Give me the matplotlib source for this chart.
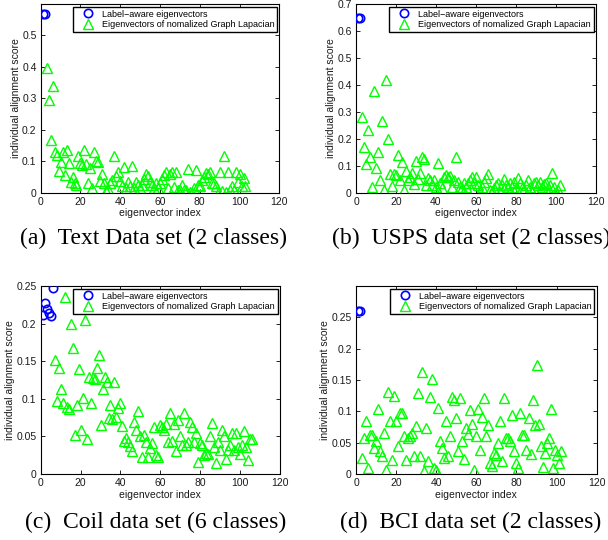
import numpy as np
import matplotlib
matplotlib.use("Agg")
import matplotlib.pyplot as plt

plt.rcParams['font.family'] = ['Liberation Sans', 'DejaVu Sans']

# ---------------- data ----------------
label_a_start = 1
label_a = [0.567, 0.567]
lap_a_start = 3
lap_a = [0.397, 0.294, 0.167, 0.34, 0.128, 0.119, 0.07, 0.098, 0.13, 0.056,
         0.136, 0.096, 0.035, 0.051, 0.03, 0.024, 0.118, 0.093, 0.088, 0.136,
         0.09, 0.03, 0.08, 0.014, 0.13, 0.1, 0.099, 0.037, 0.061, 0.03,
         0.006, 0.013, 0.032, 0.04, 0.118, 0.054, 0.067, 0.037, 0.02, 0.083,
         0.015, 0.035, 0.02, 0.086, 0.014, 0.035, 0.025, 0.014, 0.024, 0.045,
         0.061, 0.054, 0.035, 0.025, 0.014, 0.03, 0.014, 0.032, 0.045, 0.056,
         0.065, 0.015, 0.061, 0.067, 0.017, 0.065, 0.008, 0.009, 0.025, 0.01,
         0.009, 0.074, 0.003, 0.0, 0.014, 0.072, 0.025, 0.02, 0.04, 0.051,
         0.064, 0.061, 0.067, 0.03, 0.032, 0.02, 0.0, 0.065, 0.005, 0.117,
         0.003, 0.065, 0.008, 0.02, 0.008, 0.065, 0.035, 0.061, 0.02, 0.047,
         0.02]

label_b_start = 1
label_b = [0.647, 0.647]
lap_b_start = 3
lap_b = [0.28, 0.171, 0.106, 0.232, 0.134, 0.022, 0.378, 0.09, 0.15, 0.047,
         0.267, 0.01, 0.418, 0.2, 0.069, 0.025, 0.069, 0.066, 0.14, 0.047,
         0.115, 0.01, 0.082, 0.047, 0.06, 0.072, 0.031, 0.119, 0.05, 0.072,
         0.134, 0.124, 0.028, 0.053, 0.047, 0.028, 0.047, 0.02, 0.11, 0.037,
         0.016, 0.059, 0.065, 0.059, 0.062, 0.02, 0.047, 0.134, 0.041, 0.02,
         0.016, 0.035, 0.022, 0.037, 0.047, 0.059, 0.037, 0.059, 0.028, 0.004,
         0.022, 0.041, 0.053, 0.069, 0.01, 0.007, 0.016, 0.028, 0.037, 0.004,
         0.028, 0.051, 0.028, 0.022, 0.035, 0.022, 0.041, 0.016, 0.053, 0.035,
         0.016, 0.012, 0.028, 0.047, 0.022, 0.004, 0.037, 0.041, 0.028, 0.041,
         0.02, 0.032, 0.037, 0.016, 0.03, 0.072, 0.022, 0.004, 0.01, 0.028]

label_c_start = 1
label_c = [0.212, 0.228, 0.220, 0.214, 0.210, 0.248]
lap_c_start = 7
lap_c = [0.151, 0.0975, 0.141, 0.113, 0.095, 0.236, 0.0887, 0.086, 0.199, 0.167,
         0.052, 0.092, 0.139, 0.059, 0.101, 0.205, 0.046, 0.1285, 0.094, 0.127,
         0.126, 0.1405, 0.158, 0.065, 0.113, 0.1285, 0.122, 0.074, 0.092, 0.073,
         0.123, 0.076, 0.088, 0.095, 0.064, 0.044, 0.048, 0.043, 0.037, 0.031,
         0.0696, 0.058, 0.084, 0.05, 0.022, 0.052, 0.042, 0.022, 0.034, 0.041,
         0.063, 0.025, 0.022, 0.065, 0.062, 0.059, 0.067, 0.043, 0.081, 0.044,
         0.066, 0.031, 0.072, 0.05, 0.039, 0.081, 0.039, 0.043, 0.0696, 0.063,
         0.043, 0.054, 0.016, 0.041, 0.039, 0.025, 0.028, 0.027, 0.05, 0.068,
         0.036, 0.014, 0.042, 0.032, 0.059, 0.05, 0.0195, 0.032, 0.039, 0.054,
         0.032, 0.054, 0.036, 0.027, 0.039, 0.057, 0.036, 0.018, 0.047, 0.047]

label_d_start = 1
label_d = [0.2606, 0.2606]
lap_d_start = 3
lap_d = [0.025, 0.057, 0.085, 0.009, 0.062, 0.063, 0.041, 0.052, 0.103, 0.036,
         0.028, 0.066, 0.006, 0.131, 0.085, 0.022, 0.124, 0.084, 0.045, 0.097,
         0.097, 0.061, 0.023, 0.057, 0.06, 0.065, 0.029, 0.076, 0.129, 0.028,
         0.163, 0.005, 0.074, 0.021, 0.123, 0.152, 0.009, 0.006, 0.105, 0.052,
         0.041, 0.026, 0.084, 0.029, 0.06, 0.123, 0.118, 0.089, 0.036, 0.121,
         0.052, 0.024, 0.074, 0.064, 0.102, 0.08, 0.006, 0.06, 0.104, 0.039,
         0.091, 0.122, 0.061, 0.078, 0.017, 0.012, 0.033, 0.030, 0.049, 0.085,
         0.02, 0.122, 0.057, 0.057, 0.052, 0.094, 0.036, 0.018, 0.009, 0.098,
         0.063, 0.062, 0.038, 0.09, 0.032, 0.118, 0.078, 0.174, 0.08, 0.044,
         0.011, 0.033, 0.05, 0.057, 0.103, 0.009, 0.039, 0.03, 0.017, 0.036]

captions = ["(a)  Text Data set (2 classes)", "(b)  USPS data set (2 classes)",
            "(c)  Coil data set (6 classes)", "(d)  BCI data set (2 classes)"]
legend_labels = ["Label\u2212aware eigenvectors",
                 "Eigenvectors of nomalized Graph Lapacian"]
xticks = [0, 20, 40, 60, 80, 100, 120]
yticks_a = [0, 0.1, 0.2, 0.3, 0.4, 0.5]
yticks_b = [0, 0.1, 0.2, 0.3, 0.4, 0.5, 0.6, 0.7]
yticks_c = [0, 0.05, 0.1, 0.15, 0.2, 0.25]
yticks_d = [0, 0.05, 0.1, 0.15, 0.2, 0.25]
ylims = [0.6, 0.7, 0.25, 0.3]

# ---------------- figure ----------------
W, H = 608, 540
fig = plt.figure(figsize=(W / 100, H / 100), dpi=100)

def rect(l, r, t, b):
    return [l / W, 1 - b / H, (r - l) / W, (b - t) / H]

rects = [rect(40.7, 279.3, 4, 192.7), rect(356, 596, 4, 192.7),
         rect(40.7, 280, 286, 474), rect(356, 596.7, 286, 474)]

panels = [
    (label_a_start, label_a, lap_a_start, lap_a, yticks_a),
    (label_b_start, label_b, lap_b_start, lap_b, yticks_b),
    (label_c_start, label_c, lap_c_start, lap_c, yticks_c),
    (label_d_start, label_d, lap_d_start, lap_d, yticks_d),
]

def fmt(v):
    s = ('%g' % v)
    return s

for i, (ls, lv, gs, gv, yt) in enumerate(panels):
    ax = fig.add_axes(rects[i])
    lx = np.arange(ls, ls + len(lv))
    gx = np.arange(gs, gs + len(gv))
    ax.plot(lx, lv, linestyle='none', marker='o', ms=6, mfc='none',
            mec='#0000ff', mew=1.2, label=legend_labels[0], zorder=3)
    ax.plot(gx, gv, linestyle='none', marker='^', ms=6.5, mfc='none',
            mec='#00ff00', mew=1.0, label=legend_labels[1], zorder=2)
    ax.set_xlim(0, 120)
    ax.set_ylim(0, ylims[i])
    ax.set_xticks(xticks)
    ax.set_xticklabels([fmt(v) for v in xticks])
    ax.set_yticks(yt)
    ax.set_yticklabels([fmt(v) for v in yt])
    ax.tick_params(direction='in', top=True, right=True, length=3, width=0.6,
                   labelsize=7.5, pad=3, colors='black', labelcolor='#1a1a1a')
    for sp in ax.spines.values():
        sp.set_linewidth(0.8)
        sp.set_color('black')
    ax.set_xlabel('eigenvector index', fontsize=7.5, labelpad=1, color='#1a1a1a')
    ax.set_ylabel('individual alignment score', fontsize=7.5, labelpad=1,
                  color='#1a1a1a')
    leg = ax.legend(loc='upper right', bbox_to_anchor=(0.99, 0.985),
                    borderaxespad=0, fontsize=6.5, fancybox=False,
                    framealpha=1, edgecolor='black', borderpad=0.3,
                    labelspacing=0.15, handlelength=2.7, handletextpad=0.2,
                    numpoints=1)
    leg.get_frame().set_linewidth(1.0)

cap_pos = [(20, 244), (332, 244), (25, 528), (340, 528)]
for (x, y), c in zip(cap_pos, captions):
    fig.text(x / W, 1 - y / H, c, ha='left', va='baseline', fontsize=17,
             family=['Liberation Serif', 'DejaVu Serif'])

fig.savefig('out.png', dpi=100)
